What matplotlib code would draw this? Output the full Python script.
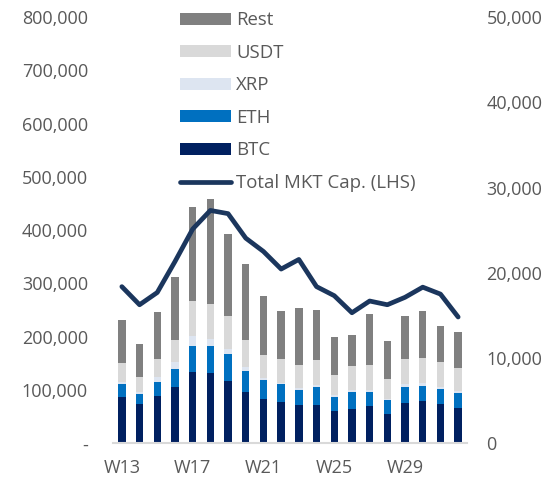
import matplotlib
matplotlib.use("Agg")
import matplotlib.pyplot as plt
import numpy as np
from matplotlib.ticker import FuncFormatter

plt.rcParams['font.family'] = ['Open Sans', 'DejaVu Sans']

weeks = ['W%d' % w for w in range(13, 33)]

# stacked bars (RHS)
btc = [5400, 4620, 5560, 6660, 8420, 8300, 7250, 6070, 5210, 4900,
       4500, 4540, 3760, 4000, 4390, 3490, 4780, 5010, 4580, 4150]
eth = [1530, 1180, 1680, 2110, 3020, 3170, 3170, 2430, 2230, 2040,
       1760, 2040, 1720, 1960, 1600, 1530, 1840, 1760, 1800, 1800]
xrp = [310, 270, 510, 790, 1100, 740, 630, 430, 270, 160,
       280, 200, 200, 240, 270, 160, 350, 350, 270, 200]
usdt = [2160, 1650, 2120, 2550, 4190, 4110, 3920, 3170, 2700, 2780,
        2590, 2940, 2350, 2820, 2900, 2350, 2940, 2940, 2940, 2740]
rest = [5010, 3960, 5480, 7360, 11010, 12380, 9520, 8970, 6820, 5640,
        6780, 5910, 4470, 3640, 5950, 4430, 4980, 5480, 4110, 4110]

# total market cap line (LHS)
total_mkt = [294000, 260000, 283000, 341000, 402000, 437000, 431000, 385000, 360000, 327000,
             345000, 294000, 277000, 245000, 267000, 260000, 274000, 293000, 280000, 237000]

series = [('BTC', btc, '#002060'), ('ETH', eth, '#0070C0'), ('XRP', xrp, '#DDE5F1'),
          ('USDT', usdt, '#D9D9D9'), ('Rest', rest, '#808080')]

txt = '#595959'
fs = 13

fig = plt.figure(figsize=(5.6, 4.79), dpi=100)
ax = fig.add_axes([113 / 560, 1 - 443.3 / 479, 354 / 560, 426.3 / 479])
x = np.arange(len(weeks))

bottom = np.zeros(len(weeks))
handles = {}
for name, vals, col in series:
    b = ax.bar(x, vals, 0.42, bottom=bottom, color=col, label=name)
    handles[name] = b
    bottom += np.array(vals)

ax.set_xlim(-0.5, len(weeks) - 0.5)
ax.set_ylim(0, 50000)
ax.set_yticks(np.arange(0, 50001, 10000))
ax.yaxis.set_major_formatter(FuncFormatter(lambda v, p: '{:,.0f}'.format(v)))
ax.set_xticks(x[::4])
ax.set_xticklabels(weeks[::4])

axl = ax.twinx()
line, = axl.plot(x, total_mkt, color='#1B365D', lw=3.4, solid_capstyle='round',
                 solid_joinstyle='round', label='Total MKT Cap. (LHS)')
axl.set_ylim(0, 800000)
axl.set_yticks(np.arange(0, 800001, 100000))
axl.yaxis.set_major_formatter(FuncFormatter(lambda v, p: '-' if v == 0 else '{:,.0f}'.format(v)))
axl.yaxis.tick_left()
ax.yaxis.tick_right()

for a in (ax, axl):
    for s in a.spines.values():
        s.set_visible(False)
ax.spines['bottom'].set_visible(True)
ax.spines['bottom'].set_color('#D9D9D9')
ax.spines['bottom'].set_linewidth(1.5)

ax.tick_params(axis='y', length=0, pad=14, labelsize=fs, labelcolor=txt)
ax.tick_params(axis='x', length=0, pad=11, labelsize=fs, labelcolor=txt)
axl.tick_params(axis='y', length=0, pad=18, labelsize=fs, labelcolor=txt)

order = ['Rest', 'USDT', 'XRP', 'ETH', 'BTC']
leg = fig.legend([handles[n] for n in order] + [line], order + ['Total MKT Cap. (LHS)'],
                 loc='upper left', bbox_to_anchor=(171 / 560, 1 - 2 / 479),
                 frameon=False, fontsize=13.4, labelcolor=txt, handlelength=2.7,
                 handleheight=0.63, labelspacing=0.78, handletextpad=0.3, borderpad=0)

fig.savefig('out.png', dpi=100)
